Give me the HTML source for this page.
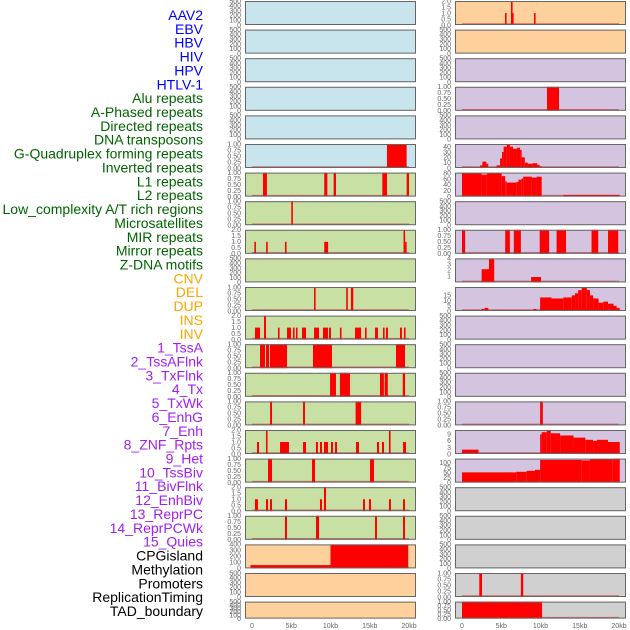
<!DOCTYPE html>
<html><head><meta charset="utf-8">
<style>
html,body{margin:0;padding:0;background:#fff;width:630px;height:630px;overflow:hidden}
svg{display:block}
.lab{font-family:"Liberation Sans",sans-serif;font-size:14px}
.tk{font-family:"Liberation Sans",sans-serif;font-size:7px;fill:#666}
</style></head>
<body>
<svg id="chart" width="630" height="630" xmlns="http://www.w3.org/2000/svg"></svg>
<script>
// ---- labels ----
const labelNames = ["AAV2","EBV","HBV","HIV","HPV","HTLV-1","Alu repeats","A-Phased repeats","Directed repeats","DNA transposons","G-Quadruplex forming repeats","Inverted repeats","L1 repeats","L2 repeats","Low_complexity A/T rich regions","Microsatellites","MIR repeats","Mirror repeats","Z-DNA motifs","CNV","DEL","DUP","INS","INV","1_TssA","2_TssAFlnk","3_TxFlnk","4_Tx","5_TxWk","6_EnhG","7_Enh","8_ZNF_Rpts","9_Het","10_TssBiv","11_BivFlnk","12_EnhBiv","13_ReprPC","14_ReprPCWk","15_Quies","CPGisland","Methylation","Promoters","ReplicationTiming","TAD_boundary"];
const labelGroups = [6,13,5,15,5];
const groupColors = ["#0000ff","#006400","#ffa500","#a020f0","#000000"];

// ---- panel settings ----
const leftColors = ["b","b","b","b","b","b","g","g","g","g","g","g","g","g","g","g","g","g","g","o","o","o"];
const rightColors = ["o","o","p","p","p","p","p","p","p","p","p","p","p","p","p","p","p","y","y","y","y","y"];
const leftMax = [500,500,500,500,500,1,1,1,2,500,1,2,1,1,1,2,1,2,1,400,500,500];
const rightMax = [2,500,500,1,500,45,82,500,1,4,23,500,500,500,1,11,122,500,500,500,1,1];
const leftTicks = [null,null,null,null,null,"q","q","q","h",null,"q","h","q","q","q","h","q","h","q",[0,100,200,300,400],null,null];
const rightTicks = ["h",null,null,"q",null,[0,10,20,30,40],[0,20,40,60,80],null,"q",[1,2,3,4],[0,5,10,15],null,null,null,"q",[0,3,6,9],[0,25,50,75,100],null,null,null,"q","q"];

// ---- data: segments [startKb, endKb, value] ----
const gquadLeft = [[17.2,19.7,1]];
const l1Left = [[1.4,1.9,1],[9.2,9.6,1],[10.4,10.7,1],[16.6,17.2,1],[19.7,20,1]];
const l2Left = [[5.0,5.12,1]];
const lowcompLeft = [[0.3,0.5,1],[1.8,2.0,1],[4.2,4.4,1],[9.2,9.7,1],[19.3,19.5,2],[19.5,19.6,1]];
const delLeft = [[7.9,8.1,1],[12.0,12.2,1],[12.6,12.9,1]];
const invLeft = [[0.38,1.02,1],[1.53,1.78,2],[3.31,3.44,1],[4.46,4.97,1],[5.22,5.35,1],[5.6,5.73,1],[6.37,6.88,1],[7.9,8.54,1],[9.04,9.68,1],[9.81,10.06,1],[11.2,11.34,1],[13.12,13.89,1],[14.4,14.52,1],[15.67,16.05,1],[16.69,16.82,1],[17.07,17.32,1],[18.85,19.1,1],[19.36,19.49,1]];
const tssaLeft = [[1.02,1.66,1],[1.78,2.17,1],[2.29,4.46,1],[7.77,10.19,1],[18.34,19.49,1]];
const txflnkLeft = [[9.94,10.7,1],[11.2,12.48,1],[16.3,16.8,1],[16.9,17.3,1],[19.2,19.5,1]];
const txwkLeft = [[2.3,2.55,1],[6.5,6.75,1],[13.2,13.9,1]];
const enhLeft = [[0.64,0.89,1],[1.78,1.91,2],[3.57,4.71,1],[6.5,6.88,1],[8.15,8.4,1],[8.66,8.92,1],[9.17,9.68,1],[10.06,10.32,1],[10.57,10.83,1],[13.25,13.63,1],[15.92,16.18,1],[16.56,16.82,1],[17.45,17.58,2],[19.24,19.62,1]];
const hetLeft = [[2.04,2.55,1],[7.64,8.03,1],[15.03,15.54,1]];
const bivflnkLeft = [[0.38,0.76,1],[1.78,2.04,1],[2.29,2.55,1],[4.2,4.46,1],[8.66,8.92,1],[9.17,9.43,2],[14.14,14.39,1],[14.9,15.16,1],[17.45,17.7,1],[19.24,19.49,1]];
const reprLeft = [[4.2,4.46,1],[8.15,8.54,1],[15.67,15.92,1],[19.24,19.49,1]];
const cpgLeft = [[-0.2,10,55],[10,19.9,400]];

const aav2Right = [[5.48,5.6,1],[6.24,6.37,2],[6.37,6.45,1],[9.17,9.3,1]];
const aluRight = [[10.83,12.36,1]];
const gquadRight = [[0,0.3,2],[0.4,1.45,2],[2.3,2.6,5],[2.6,3.1,12],[3.1,3.35,8],[4.4,4.85,5],[4.85,5.1,18],[5.1,5.3,30],[5.3,5.7,40],[5.7,6.1,44],[6.1,6.5,40],[6.5,7.0,36],[7.0,7.4,38],[7.4,7.6,34],[7.6,8.0,20],[8.0,8.4,10],[8.4,9.0,8],[9.0,9.6,9],[9.6,9.9,6],[9.9,10.15,3]];
const l1Right = [[0,2.5,80],[2.5,3.15,75],[3.15,5.05,80],[5.05,5.5,70],[5.5,5.7,52],[5.7,6.97,48],[6.97,7.2,50],[7.2,7.6,58],[7.6,7.8,62],[7.8,8.9,68],[8.9,9.5,65],[9.5,10.15,68],[12.9,20.1,6]];
const mirRight = [[0,0.4,1],[5.5,6.1,1],[6.6,7.5,1],[9.9,11.1,1],[12.05,13.25,1],[16.5,17.35,1],[18.6,19.9,1]];
const zdnaRight = [[2.5,3.44,2.2],[3.44,4.1,4],[8.8,10.07,0.9]];
const delRight = [[2.5,2.9,2],[2.9,3.35,3],[9.1,9.5,2],[9.95,11.4,13],[11.4,12.9,12],[12.9,13.98,13],[13.98,14.4,15],[14.4,14.8,17],[14.8,15.25,20],[15.25,15.9,23],[15.9,16.3,20],[16.3,16.7,15],[16.7,17.4,12],[17.4,18.0,8],[18.0,18.6,9],[18.6,19.3,7],[19.3,19.7,5],[19.7,20.1,3]];
const enhgRight = [[9.95,10.3,1]];
const znfRight = [[0,2.1,2],[9.95,10.15,9],[10.15,10.8,10],[10.8,11.3,11],[11.3,12.5,9.5],[12.5,14.2,8.5],[14.2,15.7,7.5],[15.7,16.7,6.5],[16.7,17.2,6],[17.2,18.6,6.5],[18.6,20.1,5.5]];
const hetRight = [[0,6.9,52],[6.9,8.24,55],[8.24,9.3,60],[9.3,9.95,65],[9.95,15.25,115],[15.25,16.3,113],[16.3,19.2,120],[19.2,20.1,122]];
const promRight = [[2.2,2.55,1],[7.5,7.8,1]];
const tadRight = [[0,10.2,1]];

const leftData = [null,null,null,null,null,gquadLeft,l1Left,l2Left,lowcompLeft,null,delLeft,invLeft,tssaLeft,txflnkLeft,txwkLeft,enhLeft,hetLeft,bivflnkLeft,reprLeft,cpgLeft,null,null];
const rightData = [aav2Right,null,null,aluRight,null,gquadRight,l1Right,null,mirRight,zdnaRight,delRight,null,null,null,enhgRight,znfRight,hetRight,null,null,null,promRight,tadRight];
const xTickKb = [0,5,10,15,20];
const xTickLabels = ["0","5kb","10kb","15kb","20kb"];

const bg = {b:"#c8e4ec",g:"#c8e0a4",o:"#fdd09c",p:"#d4c4e0",y:"#d0d0d0"};
const NS = "http://www.w3.org/2000/svg";
const svg = document.getElementById("chart");
function mk(tag, attrs, parent){const e=document.createElementNS(NS,tag);for(const k in attrs)e.setAttribute(k,attrs[k]);(parent||svg).appendChild(e);return e;}

// labels
let li=0;
labelGroups.forEach((n,g)=>{for(let k=0;k<n;k++){
  const t=mk("text",{x:203,y:20+li*13.86,"text-anchor":"end",class:"lab",fill:groupColors[g]});
  t.textContent=labelNames[li];
  
  
  li++;}});

const colX = [245,455];
const pw = 171;
function rowTop(i){return 1+i*28.6;}
function rowH(i){return i===21?17:24;}
function xScale(c,kb){return colX[c]+7+kb*7.85;}

function drawPanel(c,i,color,ymax,ticks,data){
  const top=rowTop(i), h=rowH(i), bot=top+h;
  const g=mk("g",{});
  
  
  mk("rect",{x:colX[c],y:top,width:pw,height:h,fill:bg[color]},g);
  const ys=v=>bot-v/ymax*h;
  if(data){
    mk("line",{x1:xScale(c,0),x2:xScale(c,20),y1:bot-1,y2:bot-1,stroke:"rgba(200,40,40,0.6)","stroke-width":1.5},g);
    data.forEach(s=>{
      const x1=xScale(c,s[0]), x2=xScale(c,s[1]);
      const r=mk("rect",{x:x1,y:ys(Math.min(s[2],ymax)),width:Math.max(1.6,x2-x1),height:bot-ys(Math.min(s[2],ymax)),fill:"#ff0000"},g);
      
      
    });
  }
  mk("rect",{x:colX[c]+0.5,y:top+0.5,width:pw-1,height:h-1,fill:"none",stroke:"#666","stroke-width":1},g);
  let tv, dec=0;
  if(ticks===null){tv=[0,100,200,300,400,500];}
  else if(ticks==="q"){tv=[0,.25,.5,.75,1];dec=2;}
  else if(ticks==="h"){tv=[0,.5,1,1.5,2];dec=1;}
  else tv=ticks;
  tv.forEach(v=>{
    const t=mk("text",{x:colX[c]-4,y:ys(v)+2.3,"text-anchor":"end",class:"tk"},g);
    t.textContent=v.toFixed(dec);
  });
}
for(let i=0;i<22;i++){
  drawPanel(0,i,leftColors[i],leftMax[i],leftTicks[i],leftData[i]);
  drawPanel(1,i,rightColors[i],rightMax[i],rightTicks[i],rightData[i]);
}
[0,1].forEach(c=>{xTickKb.forEach((kb,k)=>{
  const t=mk("text",{x:xScale(c,kb),y:628,"text-anchor":"middle",class:"tk"});
  t.textContent=xTickLabels[k];
  
  
});});
</script>
</body></html>
